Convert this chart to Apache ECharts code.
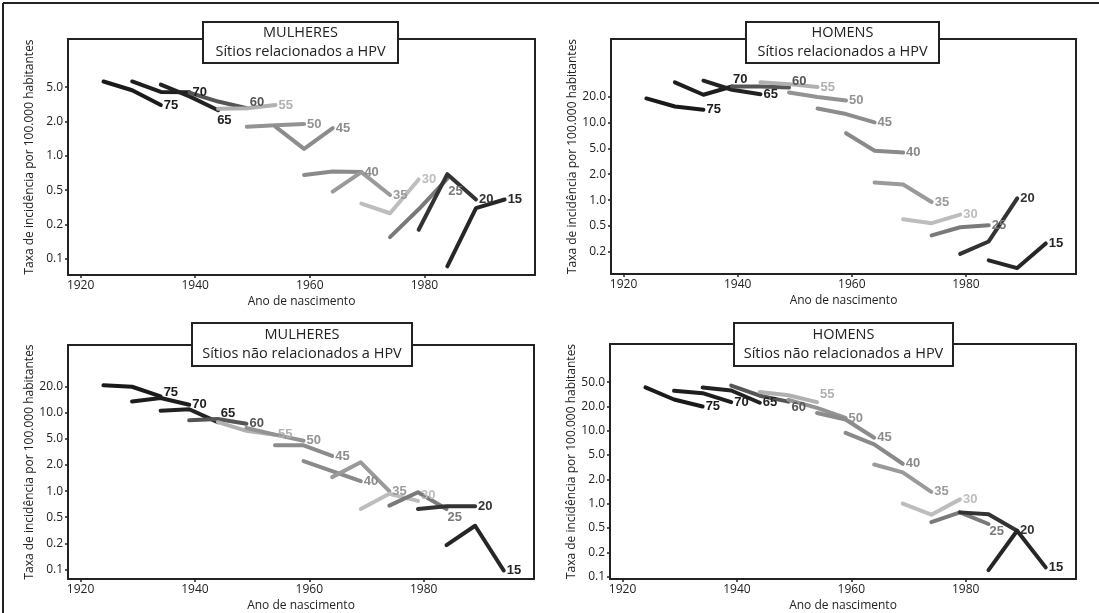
<!DOCTYPE html>
<html>
<head>
<meta charset="utf-8">
<script src="https://cdn.jsdelivr.net/npm/echarts@6/dist/echarts.min.js"></script>
<style>
  html, body { margin: 0; padding: 0; background: #fff; }
  #main { width: 1099px; height: 613px; }
</style>
</head>
<body>
<div id="main"></div>
<script>
// faixas etarias (idade no diagnostico) e coortes de nascimento de cada uma
var ages = [75, 70, 65, 60, 55, 50, 45, 40, 35, 30, 25, 20, 15];
var cohortYears = [
    [1924, 1929, 1934], [1929, 1934, 1939], [1934, 1939, 1944], [1939, 1944, 1949],
    [1944, 1949, 1954], [1949, 1954, 1959], [1954, 1959, 1964], [1959, 1964, 1969],
    [1964, 1969, 1974], [1969, 1974, 1979], [1974, 1979, 1984], [1979, 1984, 1989],
    [1984, 1989, 1994]
];
var ageColors = ['#1a1a1a', '#1e1e1e', '#222222', '#555555', '#b0b0b0', '#939393', '#8c8c8c',
                 '#8a8a8a', '#9a9a9a', '#bdbdbd', '#7a7a7a', '#333333', '#262626'];

// taxas por 100.000 (mesma ordem de ages)
var mulheresHpv = [
    [5.6, 4.6, 3.1], [5.6, 4.4, 4.35], [5.25, 3.9, 2.7], [4.3, 3.4, 2.85],
    [2.8, 2.85, 3.1], [1.8, 1.85, 1.9], [1.8, 1.15, 1.75], [0.68, 0.73, 0.72],
    [0.48, 0.72, 0.44], [0.35, 0.27, 0.62], [0.155, 0.3, 0.63], [0.18, 0.69, 0.39],
    [0.086, 0.31, 0.39]
];
var homensHpv = [
    [19, 15.3, 14], [33, 21.3, 28.5], [35, 25.4, 21.7], [28.5, 28.5, 27.5],
    [33, 31, 28], [23, 19.7, 18], [14.5, 12.5, 10], [7.5, 4.6, 4.3],
    [1.6, 1.52, 0.95], [0.6, 0.54, 0.68], [0.36, 0.48, 0.51], [0.19, 0.29, 1.05],
    [0.16, 0.13, 0.27]
];
var mulheresNaoHpv = [
    [21, 20, 15.5], [13.5, 14.8, 12.4], [10.6, 11, 7.8], [8.2, 8.5, 7.5],
    [7.8, 6.2, 5.6], [6.7, 5.6, 4.7], [4, 4, 2.75], [2.3, 1.7, 1.3],
    [1.45, 2.2, 1.0], [0.62, 0.93, 0.77], [0.68, 0.97, 0.62], [0.62, 0.67, 0.67],
    [0.19, 0.37, 0.097]
];
var homensNaoHpv = [
    [41, 26, 20], [36, 33, 23.5], [41, 36.5, 23], [44, 30, 24],
    [34.5, 30.5, 23.5], [25.7, 19.2, 14.4], [16.6, 13.8, 8.2], [9.4, 6.8, 3.6],
    [3.5, 2.6, 1.4], [1.0, 0.73, 1.13], [0.59, 0.78, 0.56], [0.78, 0.74, 0.45],
    [0.12, 0.45, 0.13]
];

var xTicks = [1920, 1940, 1960, 1980];
var yTicksMulheresHpv = [0.1, 0.2, 0.5, 1, 2, 5];
var yTicksHomensHpv = [0.2, 0.5, 1, 2, 5, 10, 20];
var yTicksMulheresNaoHpv = [0.1, 0.2, 0.5, 1, 2, 5, 10, 20];
var yTicksHomensNaoHpv = [0.1, 0.2, 0.5, 1, 2, 5, 10, 20, 50];

// the original axis spaces the 1-2-5 ticks evenly, so map values onto that scale
function toIdx(v) {
    var e = Math.floor(Math.log10(v) + 1e-9);
    var m = v / Math.pow(10, e);
    var pos;
    if (m < 2) pos = Math.log(m) / Math.log(2);
    else if (m < 5) pos = 1 + Math.log(m / 2) / Math.log(2.5);
    else pos = 2 + Math.log(m / 5) / Math.log(2);
    return 3 * (e + 1) + pos;
}
function fromIdx(i) {
    i = Math.round(i * 1e6) / 1e6;
    var d = Math.floor(i / 3), r = i - 3 * d;
    var base = 0.1 * Math.pow(10, d);
    if (r < 1) return base * Math.pow(2, r);
    if (r < 2) return 2 * base * Math.pow(2.5, r - 1);
    return 5 * base * Math.pow(2, r - 2);
}

var FONT = 'Open Sans';
var panels = [
    { data: mulheresHpv, ticks: yTicksMulheresHpv, grid: { left: 68, top: 39, width: 467, height: 236 },
      ymin: -0.47, ymax: 6.4, title: 'MULHERES\nSítios relacionados a HPV', box: [203, 22, 195, 41],
      offsets: { 65: [-4, 10], 60: [0, -6], 25: [-2, 13] } },
    { data: homensHpv, ticks: yTicksHomensHpv, grid: { left: 611, top: 39, width: 465, height: 235 },
      ymin: 0.15, ymax: 9.22, title: 'HOMENS\nSítios relacionados a HPV', box: [746, 22, 193, 41],
      offsets: { 70: [-2, -7], 60: [0, -6] } },
    { data: mulheresNaoHpv, ticks: yTicksMulheresNaoHpv, grid: { left: 68, top: 345, width: 466, height: 235 },
      ymin: -0.37, ymax: 8.6, title: 'MULHERES\nSítios não relacionados a HPV', box: [192, 323, 220, 43],
      offsets: { 75: [0, -4], 65: [0, -9], 25: [-2, 8], 30: [0, -6] } },
    { data: homensNaoHpv, ticks: yTicksHomensNaoHpv, grid: { left: 610, top: 344, width: 466, height: 236 },
      ymin: -0.1, ymax: 9.57, title: 'HOMENS\nSítios não relacionados a HPV', box: [734, 323, 219, 43],
      offsets: { 60: [0, 6], 55: [0, -8], 25: [-2, 7] } }
];

var grids = [], xAxes = [], yAxes = [], series = [], graphics = [];

panels.forEach(function (p, k) {
    grids.push({
        left: p.grid.left, top: p.grid.top, width: p.grid.width, height: p.grid.height,
        show: true, borderColor: '#222', borderWidth: 2, backgroundColor: 'transparent'
    });
    xAxes.push({
        type: 'value', gridIndex: k, min: 1917.8, max: 1999.3, position: 'bottom',
        name: 'Ano de nascimento', nameLocation: 'middle', nameGap: 21,
        nameTextStyle: { fontFamily: FONT, fontSize: 12, color: '#222' },
        axisLine: { show: false, onZero: false }, splitLine: { show: false },
        axisTick: { show: true, customValues: xTicks, length: 3, lineStyle: { color: '#222', width: 1.5 } },
        axisLabel: {
            customValues: xTicks, margin: 5, fontFamily: FONT, fontSize: 12, color: '#222',
            formatter: function (v) { return String(v); }
        }
    });
    var yIdx = p.ticks.map(toIdx);
    yAxes.push({
        type: 'value', gridIndex: k, min: p.ymin, max: p.ymax,
        name: 'Taxa de incidência por 100.000 habitantes', nameLocation: 'middle', nameRotate: 90, nameGap: 32,
        nameTextStyle: { fontFamily: FONT, fontSize: 12, color: '#222' },
        axisLine: { show: false, onZero: false }, splitLine: { show: false },
        axisTick: { show: true, customValues: yIdx, length: 3, lineStyle: { color: '#222', width: 1.5 } },
        axisLabel: {
            customValues: yIdx, margin: 5, fontFamily: FONT, fontSize: 12, color: '#222',
            formatter: function (v) { return fromIdx(v).toFixed(1); }
        }
    });
    ages.forEach(function (age, j) {
        var pts = cohortYears[j].map(function (yr, t) { return [yr, toIdx(p.data[j][t])]; });
        series.push({
            type: 'line', xAxisIndex: k, yAxisIndex: k, data: pts,
            symbol: 'none', silent: true,
            lineStyle: { color: ageColors[j], width: 4, cap: 'round', join: 'round' },
            endLabel: {
                show: true, formatter: String(age), distance: 3,
                offset: p.offsets[age] || [0, 0],
                color: ageColors[j], fontFamily: 'Liberation Sans', fontWeight: 'bold', fontSize: 13
            }
        });
    });
    var b = p.box;
    graphics.push({
        type: 'rect', z: 100,
        shape: { x: b[0], y: b[1], width: b[2], height: b[3] },
        style: { fill: '#fff', stroke: '#222', lineWidth: 2 }
    });
    graphics.push({
        type: 'text', z: 101,
        style: {
            text: p.title, x: b[0] + b[2] / 2, y: b[1] + b[3] / 2,
            align: 'center', verticalAlign: 'middle',
            fontFamily: FONT, fontSize: 14.5, lineHeight: 19, fill: '#222'
        }
    });
});

// moldura externa (topo e lado esquerdo)
graphics.push({ type: 'line', z: 100, shape: { x1: 3, y1: 3, x2: 1099, y2: 3 }, style: { stroke: '#222', lineWidth: 2 } });
graphics.push({ type: 'line', z: 100, shape: { x1: 3, y1: 3, x2: 3, y2: 613 }, style: { stroke: '#222', lineWidth: 2 } });

var chart = echarts.init(document.getElementById('main'));
chart.setOption({
    animation: false,
    backgroundColor: '#fff',
    grid: grids,
    xAxis: xAxes,
    yAxis: yAxes,
    series: series,
    graphic: graphics
});
</script>
</body>
</html>
